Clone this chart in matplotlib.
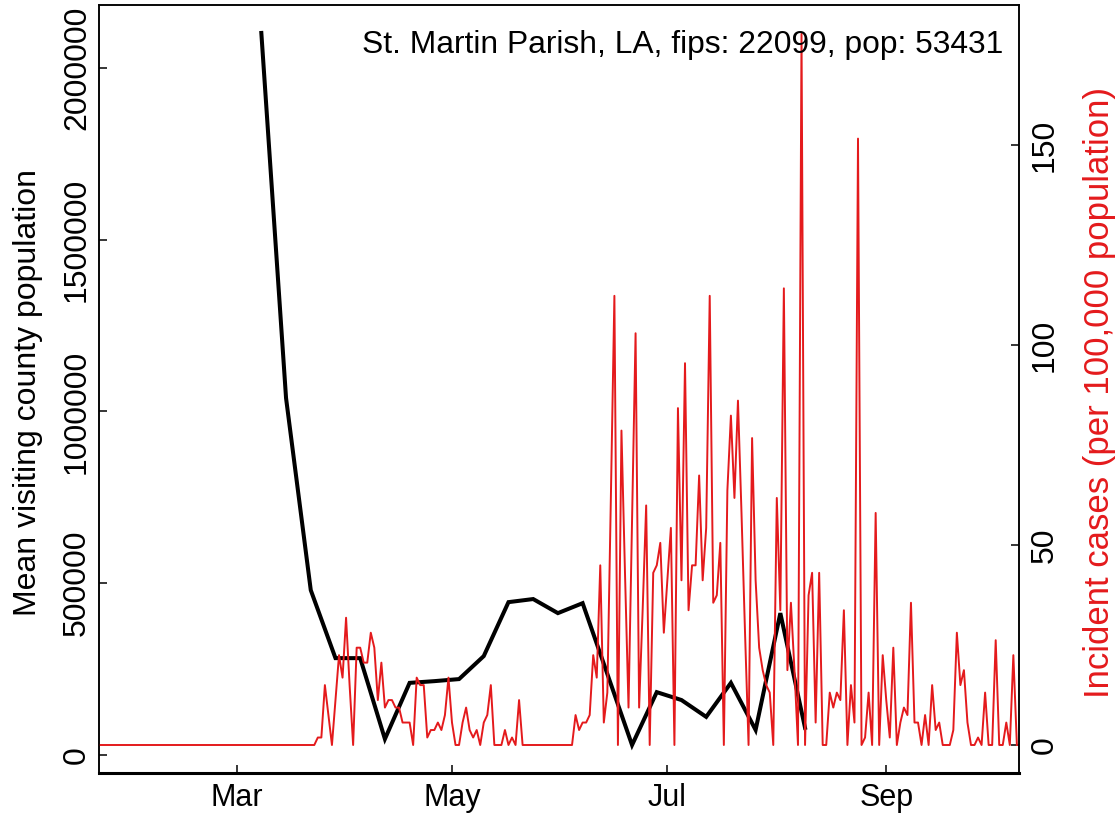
import numpy as np
import matplotlib
matplotlib.use("Agg")
import matplotlib.pyplot as plt
import matplotlib.dates as mdates

plt.rcParams['font.family'] = ['Liberation Sans', 'DejaVu Sans']

county = "St. Martin Parish, LA, fips: 22099, pop: 53431"
pop = 53431

# weekly mean visiting county population, first week 2020-03-08
visit_start = np.datetime64("2020-03-08")
visitors = [2102000, 1039000, 480000, 282000, 282000, 46600, 210000, 215000,
            221000, 288000, 445000, 454000, 413000, 442000, 236000, 29000,
            183000, 160000, 111000, 210000, 73000, 413000, 79000]

# daily new cases, first day 2020-01-22 (nothing until 2020-03-23)
case_start = np.datetime64("2020-01-22")
cases_before = [0] * 61
cases = [0, 1, 1, 8, 4, 0, 6, 12, 9, 17,
         8, 0, 13, 13, 11, 11, 15, 13, 6, 11,
         5, 6, 6, 5, 5, 3, 3, 3, 0, 9,
         8, 8, 1, 2, 2, 3, 2, 4, 9, 3,
         0, 0, 3, 5, 2, 1, 2, 0, 3, 4,
         8, 0, 0, 0, 2, 0, 1, 0, 6, 0,
         0, 0, 0, 0, 0, 0, 0, 0, 0, 0, 0,
         0, 0, 0, 4, 2, 3, 3, 4, 12, 9,
         24, 3, 7, 33, 60, 0, 42, 23, 5, 30,
         55, 5, 18, 32, 0, 23, 24, 27, 15, 22,
         29, 0, 45, 22, 51, 18, 24, 24, 36, 22,
         29, 60, 19, 20, 27, 0, 34, 44, 33, 46,
         31, 15, 0, 41, 22, 13, 10, 8, 7, 0,
         33, 18, 61, 10, 19, 10, 0, 95, 0, 20,
         23, 3, 23, 0, 0, 7, 5, 7, 6, 18,
         0, 8, 3, 81, 0, 1, 7, 0, 31, 0,
         12, 6, 1, 13, 0, 3, 5, 4, 19, 3,
         3, 0, 4, 0, 8, 2, 3, 0, 0, 0,
         2, 15, 8, 10, 3, 0, 0, 1, 0, 7,
         0, 0, 14, 0, 0, 3, 0, 12, 0]

tick_dates = ["2020-03-01", "2020-05-01", "2020-07-01", "2020-09-01"]
tick_names = ["Mar", "May", "Jul", "Sep"]
left_ticks = [0, 500000, 1000000, 1500000, 2000000]
right_ticks = [0, 50, 100, 150]

red = "#E41A1C"

visit_dates = visit_start + np.arange(len(visitors)) * np.timedelta64(7, "D")
all_cases = np.array(cases_before + cases, dtype=float)
case_dates = case_start + np.arange(len(all_cases)) * np.timedelta64(1, "D")
incidence = all_cases / pop * 1e5

fig = plt.figure(figsize=(11.19, 8.17), dpi=100)
ax = fig.add_axes([99 / 1119, 1 - 773 / 817, 920 / 1119, 768 / 817])
ax2 = ax.twinx()

ax.plot(visit_dates, visitors, color="black", lw=2.9, solid_joinstyle="miter")
ax2.plot(case_dates, incidence, color=red, lw=1.4)

mar1 = mdates.date2num(np.datetime64("2020-03-01"))
ax.set_xlim(mar1 - 38.98, mar1 + 221.6)
ax.set_ylim(-52400, 2183400)
ax2.set_ylim(-7, 185)

ax.set_xticks([mdates.date2num(np.datetime64(d)) for d in tick_dates])
ax.set_xticklabels(tick_names)
ax.set_yticks(left_ticks)
ax.set_yticklabels([str(v) for v in left_ticks], rotation=90, va="center")
ax2.set_yticks(right_ticks)
ax2.set_yticklabels([str(v) for v in right_ticks], rotation=90, va="center")

for a in (ax, ax2):
    a.tick_params(direction="in", length=6, width=1.1, labelsize=23)
    for s in a.spines.values():
        s.set_linewidth(1.1)
ax.tick_params(axis="x", pad=7, labelsize=22)
ax.tick_params(axis="y", pad=5)
ax2.tick_params(axis="y", pad=8)
ax.spines["bottom"].set_linewidth(2.2)

fig.text(28 / 1119, 1 - 392 / 817, "Mean visiting county population",
         rotation=90, ha="center", va="center", fontsize=23)
fig.text(1100 / 1119, 1 - 393 / 817, "Incident cases (per 100,000 population)",
         rotation=90, ha="center", va="center", fontsize=25, color=red)
fig.text(1003 / 1119, 1 - 45 / 817, county, ha="right", va="center", fontsize=22.9)

fig.savefig("out.png", dpi=100)
